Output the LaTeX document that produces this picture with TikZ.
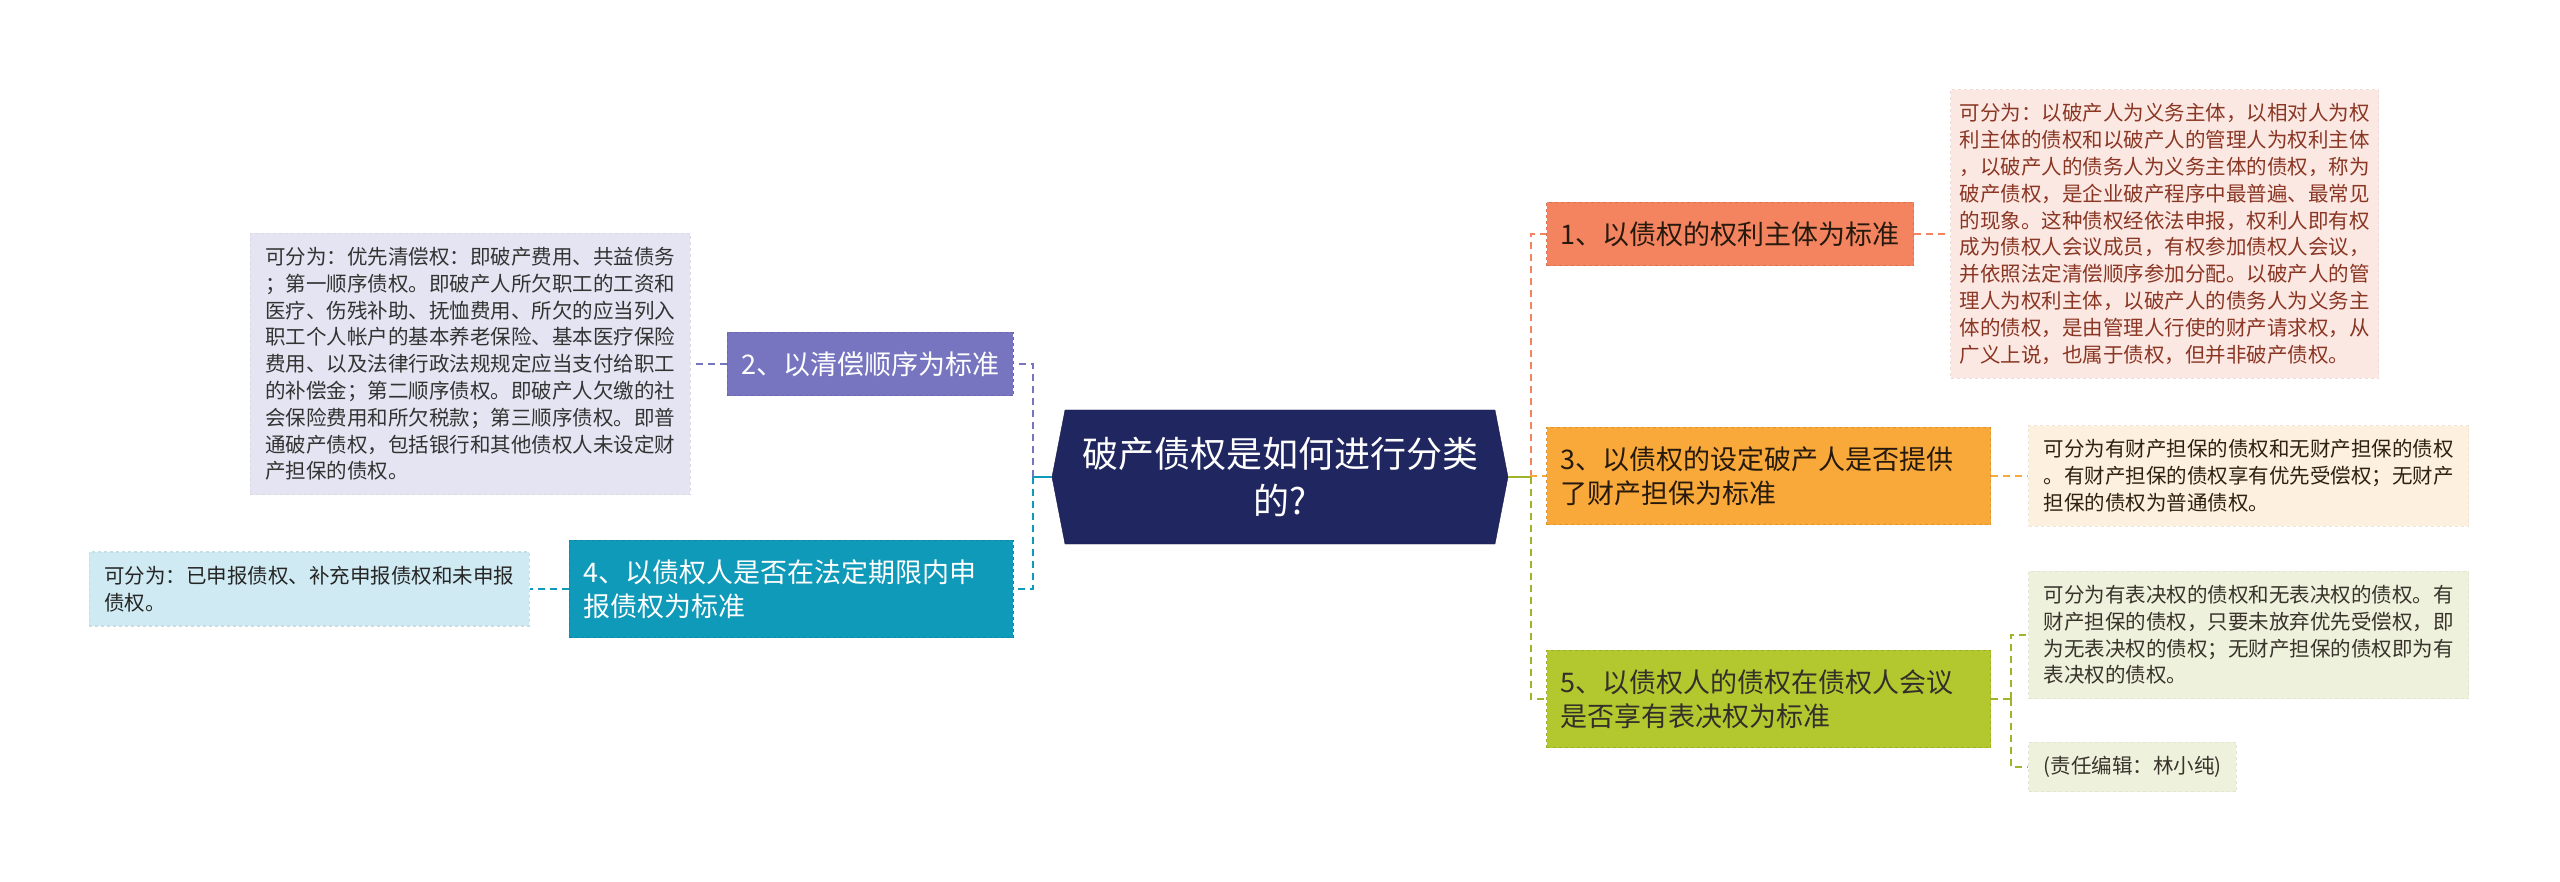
\documentclass[tikz,border=0pt]{standalone}
\usepackage{fontspec}
\usepackage{xcolor}
\usepackage{tikz}
\usetikzlibrary{shapes.symbols}
\setmainfont{Noto Sans CJK SC}

\definecolor{rootblue}{HTML}{20265F}
\definecolor{coral}{HTML}{F4845F}
\definecolor{lilac}{HTML}{7775C0}
\definecolor{amber}{HTML}{F9A939}
\definecolor{sea}{HTML}{0E9AB8}
\definecolor{lime}{HTML}{B3C72F}
\definecolor{pinkleaf}{HTML}{FCE8E2}
\definecolor{lilacleaf}{HTML}{E5E4F2}
\definecolor{amberleaf}{HTML}{FDF0DE}
\definecolor{sealeaf}{HTML}{CFEAF2}
\definecolor{limeleaf}{HTML}{EEF1DC}
\definecolor{rusttext}{HTML}{8A3624}

\begin{document}
\begin{tikzpicture}[x=1pt, y=-1pt,
    root/.style={signal, signal to=east and west, signal pointer angle=158, fill=rootblue, draw=rootblue!80!black, text=white,
        font=\fontsize{36pt}{47pt}\selectfont, align=center, text width=420pt, minimum width=456pt, minimum height=134pt, inner sep=0pt},
    topic/.style={fill=#1, draw=#1!88!black, dashed, line width=1.3pt, inner xsep=14pt, inner ysep=19pt, minimum height=63pt,
        font=\fontsize{27pt}{34pt}\selectfont},
    wide/.style={text width=416pt, align=left},
    leaf/.style={fill=#1, draw=#1!95!black, dashed, line width=1.2pt, inner xsep=15pt, inner ysep=14pt,
        font=\fontsize{20.5pt}{26.8pt}\selectfont},
    para/.style={text width=410pt, align=left},
    link/.style={draw=#1, line width=2.5pt, dash pattern=on 7pt off 5pt},
    stub/.style={draw=#1, line width=2.5pt}]

    \path[use as bounding box, fill=white] (0,0) rectangle (2560,882);

    \node[root] (root) at (1280,477) {破产债权是如何进行分类\\的?};

    \node[topic=coral, text=black!80!brown, anchor=west] (t1) at (1546,234) {1、以债权的权利主体为标准};
    \node[topic=amber, wide, text=black!80!brown, anchor=west] (t3) at (1546,476) {3、以债权的设定破产人是否提供\\了财产担保为标准};
    \node[topic=lime, wide, text=black!85!olive, anchor=west] (t5) at (1546,699) {5、以债权人的债权在债权人会议\\是否享有表决权为标准};
    \node[topic=lilac, text=white, anchor=east] (t2) at (1014,364) {2、以清偿顺序为标准};
    \node[topic=sea, wide, text=white, anchor=east] (t4) at (1014,589) {4、以债权人是否在法定期限内申\\报债权为标准};

    \node[leaf=pinkleaf, para, inner xsep=9pt, text=rusttext, anchor=west] (l1) at (1950,234) {可分为：以破产人为义务主体，以相对人为权\\利主体的债权和以破产人的管理人为权利主体\\，以破产人的债务人为义务主体的债权，称为\\破产债权，是企业破产程序中最普遍、最常见\\的现象。这种债权经依法申报，权利人即有权\\成为债权人会议成员，有权参加债权人会议，\\并依照法定清偿顺序参加分配。以破产人的管\\理人为权利主体，以破产人的债务人为义务主\\体的债权，是由管理人行使的财产请求权，从\\广义上说，也属于债权，但并非破产债权。};
    \node[leaf=lilacleaf, para, text=black!80, anchor=east] (l2) at (691,364) {可分为：优先清偿权：即破产费用、共益债务\\；第一顺序债权。即破产人所欠职工的工资和\\医疗、伤残补助、抚恤费用、所欠的应当列入\\职工个人帐户的基本养老保险、基本医疗保险\\费用、以及法律行政法规规定应当支付给职工\\的补偿金；第二顺序债权。即破产人欠缴的社\\会保险费用和所欠税款；第三顺序债权。即普\\通破产债权，包括银行和其他债权人未设定财\\产担保的债权。};
    \node[leaf=amberleaf, para, text=black!75!brown, anchor=west] (l3) at (2028,476) {可分为有财产担保的债权和无财产担保的债权\\。有财产担保的债权享有优先受偿权；无财产\\担保的债权为普通债权。};
    \node[leaf=sealeaf, para, text=black!85, anchor=east] (l4) at (530,589) {可分为：已申报债权、补充申报债权和未申报\\债权。};
    \node[leaf=limeleaf, para, text=black!80!olive, anchor=west] (l5) at (2028,635) {可分为有表决权的债权和无表决权的债权。有\\财产担保的债权，只要未放弃优先受偿权，即\\为无表决权的债权；无财产担保的债权即为有\\表决权的债权。};
    \node[leaf=limeleaf, text=black!80!olive, anchor=west] (l6) at (2028,767) {(责任编辑：林小纯)};

    \coordinate (rj) at (1531,477);
    \coordinate (lj) at (1033,477);
    \coordinate (gj) at (2011,699);

    \draw[link=coral] (rj) |- (t1.west);
    \draw[link=amber] (rj) |- (t3.west);
    \draw[link=lime!90!black] (rj) |- (t5.west);
    \draw[stub=lime!90!black] (root.east) -- (rj);
    \draw[link=lilac] (lj) |- (t2.east);
    \draw[link=sea] (lj) |- (t4.east);
    \draw[stub=sea] (root.west) -- (lj);

    \draw[link=coral] (t1.east) -- (l1.west);
    \draw[link=amber] (t3.east) -- (l3.west);
    \draw[link=lilac] (t2.west) -- (l2.east);
    \draw[link=sea] (t4.west) -- (l4.east);
    \draw[link=lime!90!black] (t5.east) -- (gj);
    \foreach \leafname in {l5, l6} \draw[link=lime!90!black] (gj) |- (\leafname.west);
\end{tikzpicture}
\end{document}
